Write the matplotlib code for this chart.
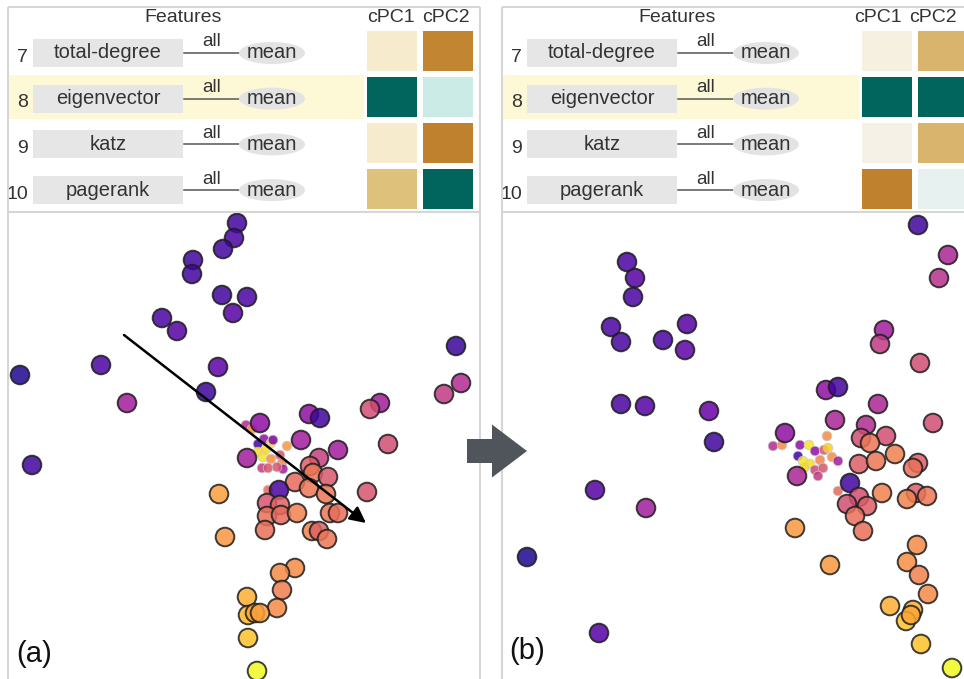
import numpy as np
import matplotlib
matplotlib.use("Agg")
import matplotlib.pyplot as plt
from matplotlib.patches import Rectangle, Ellipse, FancyArrow

plt.rcParams['font.family'] = ['Liberation Sans', 'DejaVu Sans']

# ---------------- data ----------------
feature_ids = [7, 8, 9, 10]
feature_names = ["total-degree", "eigenvector", "katz", "pagerank"]
components = ["cPC1", "cPC2"]

# contrastive PC loadings per feature (rows) and component (cols)
loadings_a = [[-0.16, -0.58],
              [0.80, 0.18],
              [-0.16, -0.60],
              [-0.40, 0.80]]
loadings_b = [[-0.08, -0.44],
              [0.80, 0.80],
              [-0.06, -0.44],
              [-0.60, 0.06]]

# embedding (a): screen coordinates and colour value
a_x = [237, 234, 223, 193, 192, 222, 247, 233, 162, 177, 101, 218, 20, 206, 127,
       456, 461, 444, 380, 370, 309, 320, 260, 301, 338, 388, 247, 32, 319, 310,
       313, 328, 295, 309, 326, 367, 279, 219, 267, 280, 267, 281, 297, 330, 338,
       265, 312, 319, 327, 225, 295, 280, 282, 247, 277, 248, 255, 260, 248, 257]
a_y = [223, 238, 249, 260, 274, 295, 297, 313, 318, 331, 365, 367, 375, 392, 403,
       346, 383, 394, 403, 409, 414, 418, 423, 440, 450, 444, 458, 465, 458, 466,
       473, 477, 482, 488, 494, 492, 490, 494, 503, 505, 516, 515, 513, 513, 513,
       530, 531, 531, 539, 537, 568, 573, 590, 597, 608, 615, 613, 613, 638, 671]
a_c = [0.10, 0.12, 0.10, 0.10, 0.10, 0.10, 0.12, 0.15, 0.12, 0.15, 0.12, 0.17, 0.03, 0.08, 0.35,
       0.08, 0.40, 0.45, 0.35, 0.52, 0.30, 0.10, 0.30, 0.35, 0.35, 0.52, 0.35, 0.10, 0.47, 0.58,
       0.66, 0.56, 0.62, 0.66, 0.66, 0.55, 0.12, 0.78, 0.54, 0.59, 0.64, 0.62, 0.69, 0.66, 0.64,
       0.64, 0.69, 0.59, 0.66, 0.75, 0.72, 0.72, 0.68, 0.82, 0.72, 0.84, 0.80, 0.78, 0.87, 1.00]

a_sx = [246, 252, 264, 271, 273, 258, 287, 258, 263, 271, 280, 282, 262, 268, 283, 277, 268, 266]
a_sy = [425, 429, 439, 443, 440, 444, 446, 452, 457, 459, 455, 463, 468, 468, 469, 467, 490, 449]
a_sc = [0.40, 0.75, 0.30, 0.95, 0.25, 0.10, 0.75, 0.93, 0.95, 0.72, 0.55, 0.70, 0.45, 0.55, 0.35, 0.55, 0.62, 0.92]

# embedding (b)
b_x = [918, 948, 939, 627, 635, 633, 611, 621, 663, 687, 685, 884, 880, 920, 826,
       838, 878, 621, 645, 709, 835, 933, 714, 785, 866, 886, 861, 870, 895, 859,
       876, 918, 913, 797, 850, 882, 916, 907, 927, 859, 847, 867, 855, 863, 595,
       646, 795, 917, 907, 830, 919, 928, 890, 913, 906, 911, 921, 952, 527, 599]
b_y = [225, 255, 278, 262, 278, 297, 327, 342, 340, 324, 350, 330, 344, 363, 390,
       387, 404, 404, 406, 411, 420, 423, 442, 433, 425, 436, 438, 443, 454, 464,
       461, 463, 468, 476, 483, 493, 493, 499, 496, 497, 504, 506, 516, 531, 490,
       508, 528, 545, 562, 565, 575, 594, 606, 610, 621, 615, 644, 668, 557, 633]
b_c = [0.10, 0.38, 0.42, 0.12, 0.15, 0.12, 0.12, 0.12, 0.12, 0.15, 0.17, 0.35, 0.45, 0.52, 0.30,
       0.10, 0.38, 0.12, 0.15, 0.20, 0.38, 0.52, 0.10, 0.30, 0.40, 0.53, 0.53, 0.66, 0.69, 0.58,
       0.66, 0.58, 0.64, 0.38, 0.10, 0.69, 0.58, 0.69, 0.66, 0.53, 0.53, 0.58, 0.64, 0.64, 0.15,
       0.35, 0.76, 0.72, 0.73, 0.76, 0.69, 0.72, 0.82, 0.82, 0.87, 0.80, 0.87, 1.00, 0.03, 0.15]

b_sx = [773, 782, 800, 809, 827, 798, 815, 824, 828, 803, 810, 804, 820, 832, 838, 815, 823, 818, 838]
b_sy = [446, 445, 445, 445, 436, 456, 451, 450, 448, 461, 464, 468, 460, 457, 461, 470, 468, 476, 491]
b_sc = [0.40, 0.72, 0.30, 0.95, 0.72, 0.10, 0.30, 0.55, 0.90, 0.95, 0.93, 0.92, 0.70, 0.72, 0.35, 0.50, 0.55, 0.45, 0.62]

# ---------------- layout helpers ----------------
W, H = 964, 679
fig = plt.figure(figsize=(W / 100, H / 100), dpi=100)


def px_rect(x0, y0, x1, y1):
    return [x0 / W, 1 - y1 / H, (x1 - x0) / W, (y1 - y0) / H]


bg = fig.add_axes([0, 0, 1, 1])
bg.set_xlim(0, W)
bg.set_ylim(H, 0)
bg.axis('off')

text_col = '#333333'
row_y0, row_step = 53, 45.7


def draw_table(dx, loadings, hl_right, cell_x0, head_x):
    # highlighted row
    bg.add_patch(Rectangle((dx + 8, 75), hl_right - (dx + 8), 44,
                           facecolor='#fdf8d6', edgecolor='none', zorder=0))
    bg.text(dx + 183, 18, "Features", ha='center', va='center',
            fontsize=14, color=text_col)
    for k, name in enumerate(components):
        bg.text(head_x + k * 55, 18, name, ha='center', va='center',
                fontsize=14, color=text_col)
    for i, (fid, name) in enumerate(zip(feature_ids, feature_names)):
        yc = row_y0 + i * row_step
        bg.text(dx + 28, yc + 4, str(fid), ha='right', va='center',
                fontsize=14, color=text_col)
        bg.add_patch(Rectangle((dx + 33, yc - 14), 150, 28,
                               facecolor='#e6e6e6', edgecolor='none', zorder=1))
        bg.text(dx + 108, yc, name, ha='center', va='center',
                fontsize=14.5, color=text_col, zorder=2)
        bg.plot([dx + 184, dx + 240], [yc, yc], color='#555555', lw=1.1, zorder=1)
        bg.text(dx + 212, yc - 11, "all", ha='center', va='center',
                fontsize=13.5, color=text_col)
        bg.add_patch(Ellipse((dx + 272, yc), 66, 22,
                             facecolor='#e3e3e3', edgecolor='none', zorder=1))
        bg.text(dx + 272, yc, "mean", ha='center', va='center',
                fontsize=14.5, color=text_col, zorder=2)
    # loading heatmap
    hm = fig.add_axes(px_rect(cell_x0 - 2, 28, cell_x0 + 110, 212))
    hm.pcolormesh(np.array(loadings), cmap='BrBG', vmin=-1, vmax=1,
                  edgecolors='white', linewidth=2.9)
    hm.set_xlim(0, 2)
    hm.set_ylim(4, 0)
    hm.axis('off')


draw_table(0, loadings_a, 365, 366, 391)
draw_table(494, loadings_b, 860, 861, 878)


def draw_scatter(x0, x1, xs, ys, cs, sxs, sys_, scs):
    ax = fig.add_axes(px_rect(x0, 213, x1, H))
    ax.set_xlim(x0, x1)
    ax.set_ylim(H, 213)
    ax.axis('off')
    ax.scatter(sxs, sys_, c=scs, cmap='plasma', vmin=0, vmax=1, s=48,
               edgecolors='#c8c8c8', linewidths=0.6, alpha=0.85, zorder=2)
    ax.scatter(xs, ys, c=cs, cmap='plasma', vmin=0, vmax=1, s=180,
               edgecolors='#1e1e1e', linewidths=1.4, alpha=0.85, zorder=3)
    return ax


ax_a = draw_scatter(9, 479, a_x, a_y, a_c, a_sx, a_sy, a_sc)
ax_a.annotate('', xy=(366, 523), xytext=(124, 335),
              arrowprops=dict(arrowstyle='-|>', color='black', lw=1.8,
                              mutation_scale=24, shrinkA=0, shrinkB=0),
              zorder=5)
ax_a.text(16, 654, "(a)", ha='left', va='center', fontsize=21, color='#111111')

ax_b = draw_scatter(503, 964, b_x, b_y, b_c, b_sx, b_sy, b_sc)
ax_b.text(509, 651, "(b)", ha='left', va='center', fontsize=21, color='#111111')

# panel frames and transition arrow
ov = fig.add_axes([0, 0, 1, 1])
ov.set_xlim(0, W)
ov.set_ylim(H, 0)
ov.axis('off')
ov.patch.set_visible(False)
frame = dict(color='#d6d6d6', lw=1.5, solid_capstyle='butt')
for x_left, x_right in [(8, 480), (502, 970)]:
    ov.plot([x_left, x_right], [7, 7], **frame)
    ov.plot([x_left, x_left], [7, 690], **frame)
    ov.plot([x_left, x_right], [212, 212], **frame)
ov.plot([480, 480], [7, 690], **frame)
ov.add_patch(FancyArrow(467, 451, 60, 0, width=24, head_width=53,
                        head_length=35, length_includes_head=True,
                        facecolor='#50555c', edgecolor='none', zorder=5))

fig.savefig('out.png', dpi=100)
